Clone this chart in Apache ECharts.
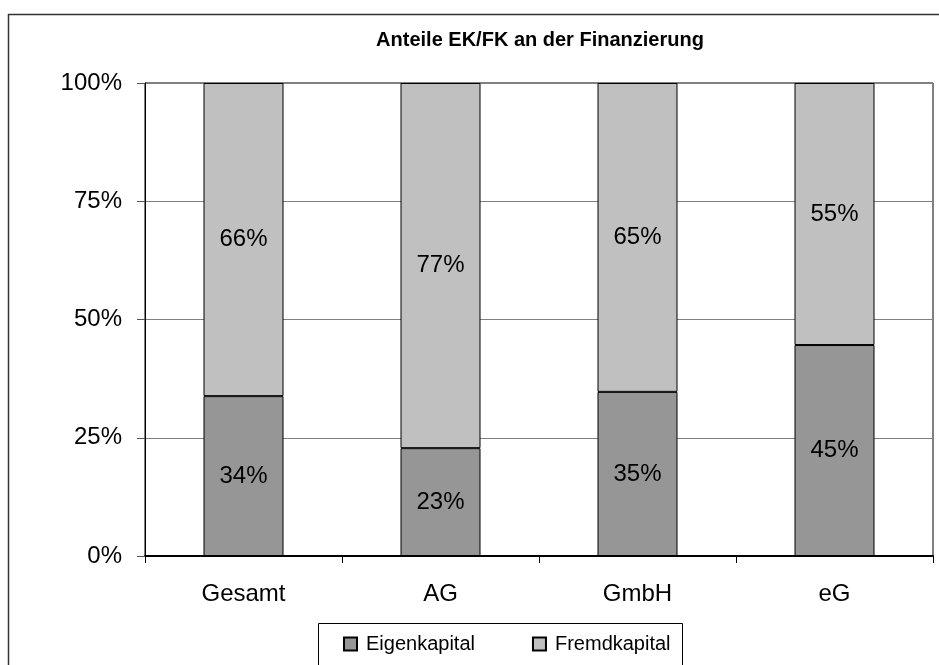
<!DOCTYPE html>
<html>
<head>
<meta charset="utf-8">
<script src="https://cdn.jsdelivr.net/npm/echarts@6/dist/echarts.min.js"></script>
<style>
html,body{margin:0;padding:0;background:#fff;}
#chart{width:939px;height:665px;}
</style>
</head>
<body>
<div id="chart"></div>
<script>
var titleText = 'Anteile EK/FK an der Finanzierung';
var categories = ['Gesamt', 'AG', 'GmbH', 'eG'];
var seriesNames = ['Eigenkapital', 'Fremdkapital'];
var eigenkapital = [33.8, 22.8, 34.7, 44.6];
var fremdkapital = [66.2, 77.2, 65.3, 55.4];
var yTicks = [0, 25, 50, 75, 100];

var FONT = '"Liberation Sans", Arial, sans-serif';
var chart = echarts.init(document.getElementById('chart'), null, {renderer: 'canvas'});

function seg(name, data, color) {
  return {
    name: name,
    type: 'bar',
    stack: 'total',
    data: data,
    barWidth: 80,
    itemStyle: {color: color, borderColor: '#000', borderWidth: 1},
    label: {
      show: true,
      position: 'inside',
      fontFamily: FONT,
      fontSize: 24,
      color: '#000',
      formatter: function (p) { return Math.round(p.value) + '%'; }
    }
  };
}

chart.setOption({
  backgroundColor: '#fff',
  animation: false,
  textStyle: {fontFamily: FONT},
  title: {
    text: titleText,
    left: 540,
    textAlign: 'center',
    top: 30,
    padding: 0,
    textStyle: {fontFamily: FONT, fontSize: 20, fontWeight: 'bold', color: '#000'}
  },
  graphic: [
    {type: 'rect', shape: {x: 8.5, y: 14.5, width: 960, height: 700},
     style: {fill: null, stroke: '#333', lineWidth: 1.5}, z: -1},
    {type: 'rect', shape: {x: 318.5, y: 623.5, width: 364, height: 80},
     style: {fill: '#fff', stroke: '#000', lineWidth: 1}, z: 0}
  ],
  legend: {
    data: seriesNames,
    left: 343,
    top: 634,
    padding: 0,
    itemGap: 57,
    itemWidth: 13,
    itemHeight: 13,
    icon: 'rect',
    z: 10,
    textStyle: {fontFamily: FONT, fontSize: 20, color: '#000', padding: [0, 0, 0, 4]}
  },
  grid: {
    left: 145, top: 83, right: 6, bottom: 109,
    show: true, borderColor: '#000', borderWidth: 1, backgroundColor: 'transparent'
  },
  xAxis: {
    type: 'category',
    data: categories,
    axisLine: {lineStyle: {color: '#000', width: 2}},
    axisTick: {show: true, length: 7, interval: 0, lineStyle: {color: '#000'}},
    axisLabel: {fontFamily: FONT, fontSize: 24, color: '#000', margin: 26}
  },
  yAxis: {
    type: 'value',
    min: yTicks[0],
    max: yTicks[yTicks.length - 1],
    interval: 25,
    axisLine: {show: true, lineStyle: {color: '#000'}},
    axisTick: {show: true, length: 8, lineStyle: {color: '#555'}},
    axisLabel: {fontFamily: FONT, fontSize: 24, color: '#000', margin: 23, formatter: '{value}%'},
    splitLine: {show: true, lineStyle: {color: '#808080', width: 1}}
  },
  series: [
    seg(seriesNames[0], eigenkapital, '#969696'),
    seg(seriesNames[1], fremdkapital, '#c0c0c0')
  ]
});
</script>
</body>
</html>
